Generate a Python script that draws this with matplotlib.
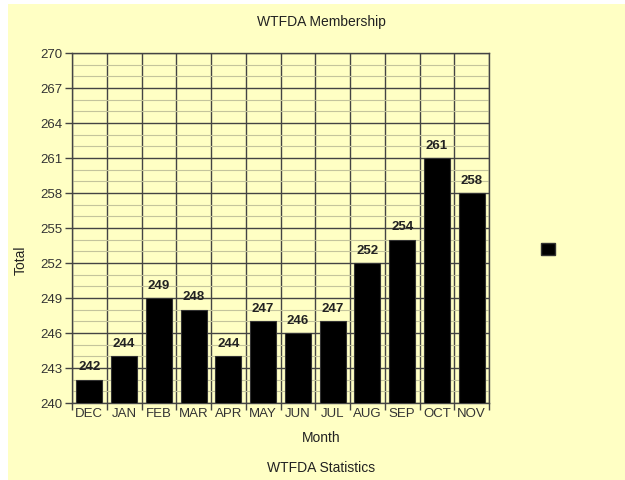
import numpy as np
import matplotlib.pyplot as plt
from matplotlib.patches import Rectangle, Patch
from matplotlib.ticker import MultipleLocator, FixedLocator, NullFormatter

# data
months = ["DEC", "JAN", "FEB", "MAR", "APR", "MAY", "JUN", "JUL", "AUG", "SEP", "OCT", "NOV"]
totals = [242, 244, 249, 248, 244, 247, 246, 247, 252, 254, 261, 258]
y_ticks = list(range(240, 271, 3))

bg = "#ffffc4"
txt = "#222222"

plt.rcParams["font.family"] = ["Liberation Sans", "DejaVu Sans"]

fig = plt.figure(figsize=(6.25, 4.81), dpi=100, facecolor="white")
# yellow panel with white strip at top and left
fig.patches.append(Rectangle((8 / 625, 0), 1, 1 - 5 / 481, transform=fig.transFigure,
                             facecolor=bg, edgecolor="none", zorder=-10))

ax = fig.add_axes([72 / 625, 1 - 404 / 481, 417 / 625, 350 / 481])
ax.set_facecolor(bg)

x = np.arange(len(months))
ax.bar(x, totals, width=0.75, bottom=0, color="black", edgecolor="#333333",
       linewidth=0.8, zorder=3)

for xi, v in zip(x, totals):
    ax.annotate(str(v), (xi, v), xytext=(0, 9.5), textcoords="offset points",
                ha="center", va="center", fontsize=9.5, fontweight="bold",
                color=txt, zorder=4)

ax.set_xlim(-0.5, len(months) - 0.5)
ax.set_ylim(240, 270)

ax.set_yticks(y_ticks)
ax.yaxis.set_minor_locator(MultipleLocator(1))
ax.set_xticks(x)
ax.set_xticklabels(months)
ax.xaxis.set_minor_locator(FixedLocator(np.arange(-0.5, len(months), 1)))
ax.xaxis.set_minor_formatter(NullFormatter())

ax.tick_params(axis="x", which="major", length=0, labelsize=9.5, labelcolor="#333333", pad=3)
ax.tick_params(axis="x", which="minor", length=5, color="#444444", width=1)
ax.tick_params(axis="y", which="major", length=5, color="#444444", width=1,
               labelsize=9.5, labelcolor="#333333", pad=2)
ax.tick_params(axis="y", which="minor", length=0)

ax.grid(axis="y", which="major", color="#444444", linewidth=1, zorder=1)
ax.grid(axis="y", which="minor", color="#c4c49c", linewidth=0.8, zorder=0)
ax.grid(axis="x", which="minor", color="#444444", linewidth=1, zorder=1)
ax.set_axisbelow(True)

for s in ax.spines.values():
    s.set_color("#444444")
    s.set_linewidth(1)

fig.text(321 / 625, 1 - 22 / 481, "WTFDA Membership", ha="center", va="center",
         fontsize=10, color=txt)
fig.text(321 / 625, 1 - 438 / 481, "Month", ha="center", va="center",
         fontsize=10, color=txt)
fig.text(321 / 625, 1 - 468 / 481, "WTFDA Statistics", ha="center", va="center",
         fontsize=10, color=txt)
fig.text(21 / 625, 1 - 260 / 481, "Total", ha="center", va="center",
         rotation=90, fontsize=10, color=txt)

# legend with a single unlabeled square
fig.legend([Patch(facecolor="black", edgecolor="#333333")], [""],
           loc="center", bbox_to_anchor=(548 / 625, 1 - 250 / 481),
           frameon=False, handlelength=1.3, handleheight=1.3, handletextpad=0,
           borderpad=0, fontsize=8)

fig.savefig("out.png", dpi=100, facecolor="white")
